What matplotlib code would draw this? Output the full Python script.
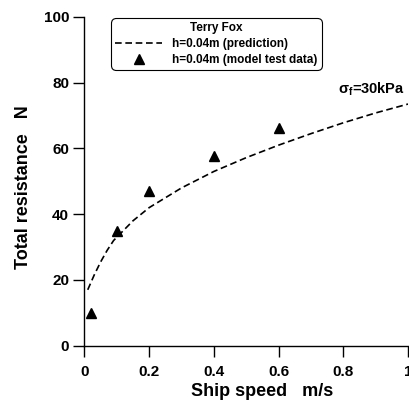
import matplotlib
matplotlib.use("Agg")
import matplotlib.pyplot as plt

plt.rcParams["font.family"] = ["Liberation Sans", "DejaVu Sans"]
plt.rcParams["font.weight"] = "bold"
plt.rcParams["mathtext.fontset"] = "custom"
plt.rcParams["mathtext.rm"] = "Liberation Sans:bold"
plt.rcParams["mathtext.bf"] = "Liberation Sans:bold"

# prediction curve (h = 0.04 m)
pred_speed = [0.01, 0.03, 0.05, 0.07, 0.09, 0.11, 0.15, 0.2, 0.3, 0.4, 0.5, 0.6, 0.7, 0.8, 0.9, 1.0]
pred_force = [17.0, 21.5, 25.5, 29.0, 32.0, 34.0, 38.0, 42.0, 48.0, 53.0, 57.2, 61.0, 64.5, 67.8, 70.8, 73.5]

# model test data (h = 0.04 m)
test_speed = [0.02, 0.1, 0.2, 0.4, 0.6]
test_force = [10.0, 35.0, 47.0, 57.7, 66.3]

fig = plt.figure(figsize=(4.09, 4.13), dpi=100)
ax = fig.add_axes([0.2066, 0.163, 0.791, 0.796])

ax.plot(pred_speed, pred_force, color="black", linestyle=(0, (4, 2.2)), linewidth=1.2,
        label="h=0.04m (prediction)")
ax.plot(test_speed, test_force, linestyle="none", marker="^", color="black", markersize=6.5,
        label="h=0.04m (model test data)")

ax.set_xlim(0, 1)
ax.set_ylim(0, 100)
ax.set_xticks([0, 0.2, 0.4, 0.6, 0.8, 1.0])
ax.set_xticklabels(["0", "0.2", "0.4", "0.6", "0.8", "1"])
ax.set_yticks([0, 20, 40, 60, 80, 100])
ax.tick_params(direction="out", length=8, width=1, labelsize=11)
ax.tick_params(axis="x", pad=6)
ax.tick_params(axis="y", pad=3)
for s in ("top", "right"):
    ax.spines[s].set_visible(False)
for s in ("left", "bottom"):
    ax.spines[s].set_linewidth(1)

ax.set_xlabel("Ship speed   m/s", fontsize=13, fontweight="bold")
ax.set_ylabel("Total resistance   N", fontsize=13, fontweight="bold")
ax.xaxis.set_label_coords(0.549, -0.115)
ax.yaxis.set_label_coords(-0.162, 0.483)

ax.text(0.784, 78.1, "σ$_\\mathbf{f}$=30kPa", fontsize=10.5, fontweight="bold",
        ha="left", va="center")

leg = ax.legend(loc="upper left", bbox_to_anchor=(0.082, 0.997), borderaxespad=0,
                title="Terry Fox", fontsize=8.5,
                title_fontproperties={"weight": "bold", "size": 8.5},
                fancybox=True, edgecolor="black", framealpha=1, handlelength=4.0,
                borderpad=0.35, labelspacing=0.35, handletextpad=0.85)
leg.get_frame().set_linewidth(0.8)
leg.get_frame().set_boxstyle("round,pad=0,rounding_size=0.45")

fig.savefig("out.png", dpi=100)
